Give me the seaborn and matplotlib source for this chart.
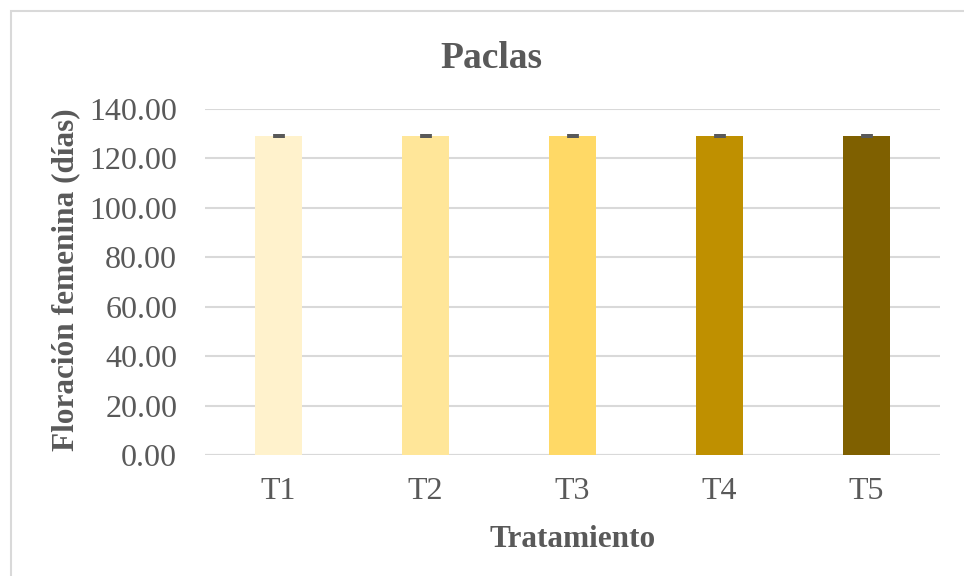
import matplotlib
matplotlib.use("Agg")
import matplotlib.pyplot as plt
from matplotlib.patches import Rectangle
import seaborn as sns
import pandas as pd

# Days to female flowering per treatment (mean and standard error)
tratamientos = ["T1", "T2", "T3", "T4", "T5"]
floracion = [129.1, 129.1, 129.1, 129.0, 129.1]
error = [0.9, 0.9, 0.9, 0.9, 0.9]
colores = ["#FFF2CC", "#FFE699", "#FFD966", "#BF9000", "#7F6000"]
yticks = [0, 20, 40, 60, 80, 100, 120, 140]

df = pd.DataFrame({"Tratamiento": tratamientos, "Floracion": floracion})

sns.set_theme(style="white")
plt.rcParams["font.family"] = ["Liberation Serif", "DejaVu Serif"]
texto = "#595959"
rejilla = "#D9D9D9"

W, H = 964, 576
fig = plt.figure(figsize=(W / 100, H / 100), dpi=100)
ax = fig.add_axes([205 / W, 1 - 455 / H, 735 / W, 346 / H])

sns.barplot(data=df, x="Tratamiento", y="Floracion", hue="Tratamiento",
            palette=colores, saturation=1, width=0.32, legend=False, ax=ax,
            zorder=3, linewidth=0)
ax.errorbar(range(len(tratamientos)), floracion, yerr=error, fmt="none",
            ecolor=texto, elinewidth=8.5, capsize=0, zorder=4)

ax.set_ylim(0, 140)
ax.set_xlim(-0.5, 4.5)
ax.set_yticks(yticks)
ax.set_yticklabels([f"{v:.2f}" for v in yticks])
ax.grid(axis="y", color=rejilla, linewidth=1.5, zorder=0)
ax.set_axisbelow(True)
for s in ["top", "right", "left", "bottom"]:
    ax.spines[s].set_visible(False)
ax.axhline(0, color=rejilla, linewidth=1.5, zorder=2)

ax.tick_params(axis="y", length=0, pad=20, labelsize=23, labelcolor=texto)
ax.tick_params(axis="x", length=0, pad=16, labelsize=23, labelcolor=texto)

ax.set_xlabel("Tratamiento", fontsize=22.5, fontweight="bold", color=texto,
              va="center")
ax.xaxis.set_label_coords(0.5, -0.245)
ax.set_ylabel("Floración femenina (días)", fontsize=22.5, fontweight="bold",
              color=texto, va="center")
ax.yaxis.set_label_coords(-0.19, 0.506)

fig.text(491 / W, 1 - 58 / H, "Paclas", ha="center", va="center",
         fontsize=27, fontweight="bold", color=texto)

# light frame around the chart area
fig.patches.append(Rectangle((11 / W, -0.01), 1.0, 1 - 11 / H + 0.01,
                             transform=fig.transFigure, fill=False,
                             edgecolor=rejilla, linewidth=1.5, zorder=0))

fig.savefig("out.png", dpi=100)
